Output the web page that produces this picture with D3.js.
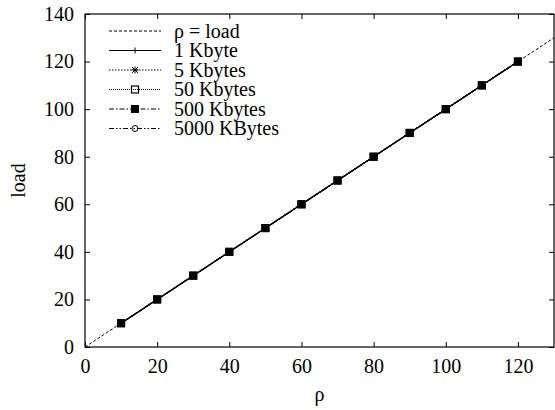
<!DOCTYPE html>
<html>
<head>
<meta charset="utf-8">
<script src="https://cdn.jsdelivr.net/npm/d3@7"></script>
<style>
  body { margin: 0; background: #fff; }
</style>
</head>
<body>
<div id="chart"></div>
<script>
// data: load measured for each request size, vs rho
var rho = [10, 20, 30, 40, 50, 60, 70, 80, 90, 100, 110, 120];
var load1K    = [10, 20, 30, 40, 50, 60, 70, 80, 90, 100, 110, 120];
var load5K    = [10, 20, 30, 40, 50, 60, 70, 80, 90, 100, 110, 120];
var load50K   = [10, 20, 30, 40, 50, 60, 70, 80, 90, 100, 110, 120];
var load500K  = [10, 20, 30, 40, 50, 60, 70, 80, 90, 100, 110, 120];
var load5000K = [10, 20, 30, 40, 50, 60, 70, 80, 90, 100, 110, 120];
var refLine = [0, 130];
var xTicks = [0, 20, 40, 60, 80, 100, 120];
var yTicks = [0, 20, 40, 60, 80, 100, 120, 140];
var legendNames = ["\u03c1 = load", "1 Kbyte", "5 Kbytes", "50 Kbytes", "500 Kbytes", "5000 KBytes"];

var FONT = "Liberation Serif";

var W = 555, H = 410;
var margin = {top: 14, right: 1, bottom: 63, left: 85};
var width = W - margin.left - margin.right,
    height = H - margin.top - margin.bottom;

var svg = d3.select("#chart").append("svg")
    .attr("width", W).attr("height", H)
  .append("g")
    .attr("transform", "translate(" + margin.left + "," + margin.top + ")");

var x = d3.scaleLinear().domain([0, 130]).range([0, width]);
var y = d3.scaleLinear().domain([0, 140]).range([height, 0]);

// frame + inward ticks on all four sides
var tl = 5;
svg.append("g").attr("transform", "translate(0," + height + ")")
  .call(d3.axisBottom(x).tickValues(xTicks).tickSizeInner(-tl).tickSizeOuter(0).tickPadding(12))
  .call(g => g.select(".domain").remove())
  .selectAll("text").attr("dy", "0.71em");
svg.append("g")
  .call(d3.axisTop(x).tickValues(xTicks).tickSizeInner(-tl).tickSizeOuter(0).tickFormat(""))
  .call(g => g.select(".domain").remove());
svg.append("g")
  .call(d3.axisLeft(y).tickValues(yTicks).tickSizeInner(-tl).tickSizeOuter(0).tickPadding(11))
  .call(g => g.select(".domain").remove());
svg.append("g").attr("transform", "translate(" + width + ",0)")
  .call(d3.axisRight(y).tickValues(yTicks).tickSizeInner(-tl).tickSizeOuter(0).tickFormat(""))
  .call(g => g.select(".domain").remove());
svg.selectAll(".tick line").attr("stroke", "#000");
svg.append("rect").attr("width", width).attr("height", height)
  .attr("fill", "none").attr("stroke", "#000").attr("stroke-width", 1.2);

// axis labels
svg.append("text").attr("x", width / 2).attr("y", height + 54)
  .attr("text-anchor", "middle").text("\u03c1");
svg.append("text").attr("transform", "translate(" + (18 - margin.left) + "," + (height / 2) + ") rotate(-90)")
  .attr("text-anchor", "middle").attr("dy", "0.35em").text("load");

// markers
function drawMarker(g, type, cx, cy) {
  if (type === "plus") {
    g.append("path").attr("d", "M" + (cx - 3) + "," + cy + "H" + (cx + 3) + "M" + cx + "," + (cy - 3) + "V" + (cy + 3))
      .attr("stroke", "#000").attr("stroke-width", 1);
  } else if (type === "star") {
    g.append("path").attr("d", "M" + (cx - 3) + "," + (cy - 3) + "L" + (cx + 3) + "," + (cy + 3) +
      "M" + (cx - 3) + "," + (cy + 3) + "L" + (cx + 3) + "," + (cy - 3) +
      "M" + (cx - 3.5) + "," + cy + "H" + (cx + 3.5) + "M" + cx + "," + (cy - 3.5) + "V" + (cy + 3.5))
      .attr("stroke", "#000").attr("stroke-width", 1);
  } else if (type === "box") {
    g.append("rect").attr("x", cx - 3.5).attr("y", cy - 3.5).attr("width", 7).attr("height", 7)
      .attr("fill", "none").attr("stroke", "#000").attr("stroke-width", 1.2);
  } else if (type === "fbox") {
    g.append("rect").attr("x", cx - 4).attr("y", cy - 4).attr("width", 8).attr("height", 8)
      .attr("fill", "#000");
  } else if (type === "circle") {
    g.append("circle").attr("cx", cx).attr("cy", cy).attr("r", 3)
      .attr("fill", "none").attr("stroke", "#000").attr("stroke-width", 1);
  }
}

var series = [
  {vals: load1K, dash: null, marker: "plus"},
  {vals: load5K, dash: "1.5,1.5", marker: "star"},
  {vals: load50K, dash: "1,1", marker: "box"},
  {vals: load500K, dash: "5,2,1.5,2", marker: "fbox"},
  {vals: load5000K, dash: "5,2,1.5,2,1.5,2", marker: "circle"}
];

var line = d3.line().x(d => x(d[0])).y(d => y(d[1]));

// reference line rho = load
svg.append("path").datum(refLine.map(v => [v, v]))
  .attr("d", line).attr("fill", "none").attr("stroke", "#000")
  .attr("stroke-width", 1).attr("stroke-dasharray", "3,2");

series.forEach(function(s) {
  var pts = rho.map((r, i) => [r, s.vals[i]]);
  svg.append("path").datum(pts).attr("d", line)
    .attr("fill", "none").attr("stroke", "#000").attr("stroke-width", 1.2)
    .attr("stroke-dasharray", s.dash);
  var mg = svg.append("g");
  pts.forEach(p => drawMarker(mg, s.marker, x(p[0]), y(p[1])));
});

// legend
var legend = svg.append("g").attr("transform", "translate(" + (109 - margin.left) + "," + (31 - margin.top) + ")");
var legendStyles = [{dash: "3,2", marker: null}].concat(series);
legendNames.forEach(function(name, i) {
  var ly = i * 19.5;
  legend.append("line").attr("x1", 0).attr("x2", 52).attr("y1", ly).attr("y2", ly)
    .attr("stroke", "#000").attr("stroke-width", 1).attr("stroke-dasharray", legendStyles[i].dash);
  if (legendStyles[i].marker) drawMarker(legend, legendStyles[i].marker, 26, ly);
  legend.append("text").attr("x", 65).attr("y", ly).attr("dy", "0.33em").text(name);
});

// one font for every label
d3.selectAll("svg g").attr("font-family", null).attr("font-size", null);
d3.selectAll("svg text")
  .style("font-family", "'" + FONT + "'").style("font-size", "20px").style("fill", "#000");
</script>
</body>
</html>
